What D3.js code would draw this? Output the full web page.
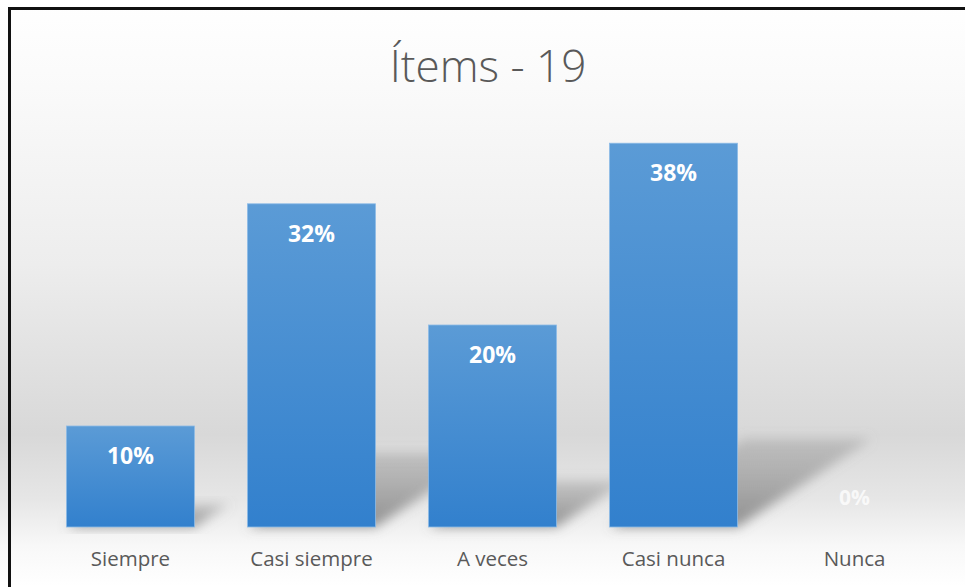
<!DOCTYPE html>
<html>
<head>
<meta charset="utf-8">
<script src="https://cdn.jsdelivr.net/npm/d3@7"></script>
<style>
html,body{margin:0;padding:0;background:#fff;}
svg{display:block;}
</style>
</head>
<body>
<svg id="chart" width="965" height="587"></svg>
<script>
const title = "Ítems - 19";
const categories = ["Siempre", "Casi siempre", "A veces", "Casi nunca", "Nunca"];
const values = [0.10, 0.32, 0.20, 0.38, 0.00];

const W = 965, H = 587;
const svg = d3.select("#chart");
const defs = svg.append("defs");

// background gradient
const bg = defs.append("linearGradient").attr("id","bg").attr("x1",0).attr("y1",0).attr("x2",0).attr("y2",1);
[[0,"#ffffff"],[0.15,"#fafafa"],[0.45,"#ededed"],[0.74,"#d8d8d8"],[0.85,"#e6e6e6"],[0.93,"#f8f8f8"],[1,"#ffffff"]]
  .forEach(([o,c])=>bg.append("stop").attr("offset",o).attr("stop-color",c));

const barG = defs.append("linearGradient").attr("id","barGrad").attr("x1",0).attr("y1",0).attr("x2",0).attr("y2",1);
barG.append("stop").attr("offset",0).attr("stop-color","#5b9bd6");
barG.append("stop").attr("offset",1).attr("stop-color","#3280cd");

const shG = defs.append("linearGradient").attr("id","shGrad").attr("x1",0).attr("y1",1).attr("x2",0).attr("y2",0);
shG.append("stop").attr("offset",0).attr("stop-color","#6e6e6e").attr("stop-opacity",0.75);
shG.append("stop").attr("offset",1).attr("stop-color","#8a8a8a").attr("stop-opacity",0.35);

const blur = defs.append("filter").attr("id","blur").attr("x","-30%").attr("y","-30%").attr("width","160%").attr("height","160%");
blur.append("feGaussianBlur").attr("stdDeviation",6);

svg.append("rect").attr("x",0).attr("y",0).attr("width",W).attr("height",H).attr("fill","url(#bg)");

const x = d3.scaleBand().domain(categories).range([40, 945]).paddingInner(0.293).paddingOuter(0.146);
const y = d3.scaleLinear().domain([0, 0.4]).range([527, 123]);
const base = y(0);

// shadows
svg.append("g").selectAll("path").data(values).join("path")
  .attr("filter","url(#blur)")
  .attr("fill","url(#shGrad)")
  .attr("d",(d,i)=>{
    const h = base - y(d);
    if (h <= 0) return null;
    const x0 = x(categories[i]), x1 = x0 + x.bandwidth();
    const dx = 0.35*h, dy = 0.23*h;
    return `M${x0},${base} L${x1},${base} L${x1+dx},${base-dy} L${x0+dx},${base-dy} Z`;
  });

// bars
svg.append("g").selectAll("rect").data(values).join("rect")
  .attr("x",(d,i)=>x(categories[i]))
  .attr("y",d=>y(d))
  .attr("width",x.bandwidth())
  .attr("height",d=>base-y(d))
  .attr("fill","url(#barGrad)")
  .attr("stroke","#8dbbe6").attr("stroke-width",d=>d>0?0.8:0);

// data labels
svg.append("g").selectAll("text").data(values).join("text")
  .attr("x",(d,i)=>x(categories[i])+x.bandwidth()/2)
  .attr("y",d=>d>0 ? y(d)+38 : base-22)
  .attr("text-anchor","middle")
  .attr("font-family","'Open Sans', sans-serif")
  .attr("font-weight",700)
  .attr("font-size",d=>d>0?"23px":"21px")
  .attr("fill","#ffffff")
  .attr("fill-opacity",d=>d>0?1:0.75)
  .text(d=>d3.format(".0%")(d));

// category axis labels
const xAxis = d3.axisBottom(x).tickSize(0).tickPadding(0);
const ax = svg.append("g").attr("transform",`translate(0,${base})`).call(xAxis);
ax.select(".domain").remove();
ax.selectAll("text")
  .attr("dy",null).attr("y",39)
  .attr("font-family","'Open Sans', sans-serif")
  .attr("font-size","20.5px")
  .attr("fill","#595959");

// title
svg.append("text").attr("x",488).attr("y",82).attr("text-anchor","middle")
  .attr("font-family","'Open Sans', sans-serif").attr("font-weight",300)
  .attr("font-size","44px").attr("fill","#595959").text(title);

// frame lines (left and top)
svg.append("path").attr("d",`M9.5,${H} L9.5,8.5 L${W},8.5`)
  .attr("fill","none").attr("stroke","#111").attr("stroke-width",3);
</script>
</body>
</html>
